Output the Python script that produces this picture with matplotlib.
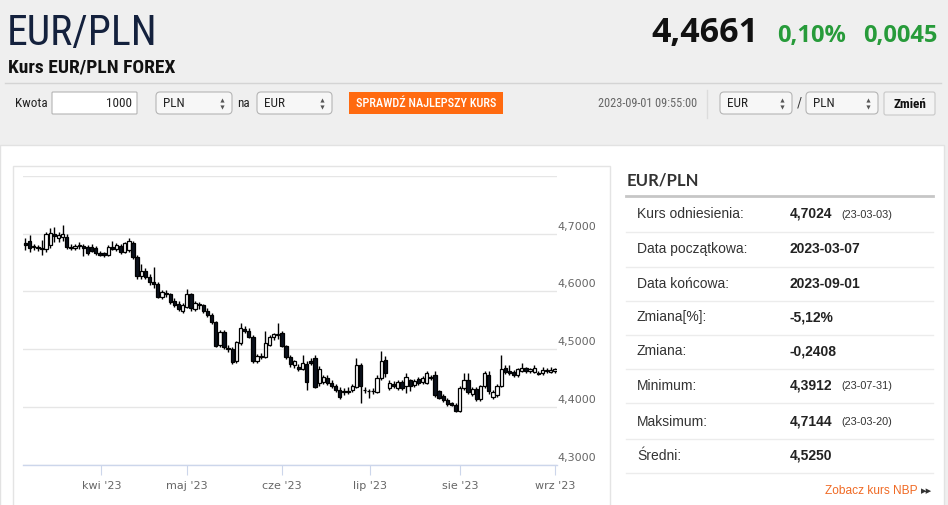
import numpy as np
import pandas as pd
import matplotlib
matplotlib.use('Agg')
import matplotlib.pyplot as plt
import matplotlib.transforms as mtransforms
from matplotlib.patches import Rectangle, FancyBboxPatch
from matplotlib import font_manager

# trading days shown on the chart (2023-03-07 .. 2023-09-01)
dates = pd.bdate_range('2023-03-07', '2023-09-01')

open_ = [4.684, 4.687, 4.677, 4.677, 4.675, 4.673, 4.680, 4.700, 4.692, 4.694,
         4.694, 4.677, 4.675, 4.679, 4.678, 4.677, 4.677, 4.676, 4.666, 4.666,
         4.663, 4.677, 4.674, 4.679, 4.668, 4.672, 4.684, 4.660, 4.627, 4.636,
         4.625, 4.616, 4.613, 4.590, 4.598, 4.595, 4.583, 4.578, 4.566, 4.573,
         4.595, 4.570, 4.578, 4.576, 4.567, 4.559, 4.547, 4.508, 4.530, 4.502,
         4.500, 4.479, 4.511, 4.535, 4.531, 4.522, 4.480, 4.488, 4.486, 4.508,
         4.522, 4.525, 4.528, 4.505, 4.486, 4.472, 4.470, 4.466, 4.475, 4.480,
         4.485, 4.441, 4.444, 4.451, 4.442, 4.436, 4.430, 4.426, 4.428, 4.430,
         4.435, 4.473, 4.430, 4.428, 4.427, 4.426, 4.450, 4.482, 4.433, 4.440,
         4.432, 4.443, 4.436, 4.446, 4.438, 4.448, 4.443, 4.442, 4.452, 4.455,
         4.427, 4.419, 4.412, 4.406, 4.403, 4.393, 4.433, 4.447, 4.422, 4.431,
         4.414, 4.436, 4.456, 4.418, 4.420, 4.437, 4.468, 4.462, 4.460, 4.455,
         4.462, 4.467, 4.462, 4.460, 4.459, 4.458, 4.462, 4.460, 4.462]
high = [4.692, 4.697, 4.683, 4.681, 4.690, 4.703, 4.710, 4.711, 4.703, 4.7144,
        4.700, 4.682, 4.683, 4.686, 4.682, 4.681, 4.683, 4.679, 4.670, 4.668,
        4.680, 4.688, 4.684, 4.682, 4.686, 4.692, 4.688, 4.664, 4.648, 4.640,
        4.631, 4.643, 4.617, 4.603, 4.602, 4.598, 4.588, 4.583, 4.580, 4.605,
        4.598, 4.583, 4.582, 4.579, 4.571, 4.562, 4.549, 4.533, 4.533, 4.507,
        4.503, 4.515, 4.546, 4.541, 4.536, 4.525, 4.492, 4.494, 4.531, 4.524,
        4.528, 4.545, 4.532, 4.508, 4.490, 4.482, 4.474, 4.490, 4.479, 4.484,
        4.490, 4.471, 4.456, 4.455, 4.446, 4.440, 4.434, 4.432, 4.434, 4.440,
        4.485, 4.477, 4.434, 4.431, 4.433, 4.455, 4.497, 4.488, 4.446, 4.445,
        4.447, 4.447, 4.458, 4.449, 4.449, 4.452, 4.454, 4.462, 4.456, 4.462,
        4.430, 4.422, 4.415, 4.409, 4.406, 4.436, 4.458, 4.458, 4.434, 4.434,
        4.438, 4.463, 4.463, 4.429, 4.440, 4.490, 4.472, 4.473, 4.464, 4.467,
        4.476, 4.470, 4.468, 4.473, 4.463, 4.470, 4.467, 4.470, 4.467]
low = [4.672, 4.668, 4.671, 4.670, 4.663, 4.668, 4.676, 4.686, 4.685, 4.688,
       4.673, 4.672, 4.671, 4.674, 4.662, 4.664, 4.668, 4.663, 4.661, 4.660,
       4.661, 4.672, 4.670, 4.665, 4.666, 4.668, 4.656, 4.622, 4.622, 4.622,
       4.612, 4.606, 4.588, 4.587, 4.590, 4.578, 4.573, 4.566, 4.562, 4.571,
       4.567, 4.566, 4.570, 4.562, 4.556, 4.543, 4.503, 4.504, 4.500, 4.496,
       4.474, 4.476, 4.508, 4.528, 4.519, 4.476, 4.477, 4.483, 4.484, 4.505,
       4.516, 4.518, 4.503, 4.483, 4.470, 4.468, 4.463, 4.464, 4.430, 4.472,
       4.432, 4.437, 4.440, 4.438, 4.432, 4.426, 4.413, 4.420, 4.422, 4.426,
       4.432, 4.407, 4.425, 4.415, 4.422, 4.424, 4.447, 4.452, 4.429, 4.432,
       4.429, 4.429, 4.424, 4.428, 4.434, 4.438, 4.440, 4.440, 4.447, 4.418,
       4.413, 4.408, 4.402, 4.401, 4.3912, 4.392, 4.430, 4.422, 4.419, 4.410,
       4.411, 4.433, 4.423, 4.414, 4.417, 4.435, 4.457, 4.455, 4.452, 4.452,
       4.460, 4.459, 4.459, 4.458, 4.455, 4.456, 4.458, 4.458, 4.459]
close = [4.680, 4.676, 4.678, 4.675, 4.673, 4.699, 4.702, 4.696, 4.697, 4.699,
         4.677, 4.675, 4.679, 4.680, 4.676, 4.666, 4.670, 4.666, 4.664, 4.663,
         4.677, 4.674, 4.681, 4.668, 4.684, 4.688, 4.660, 4.627, 4.635, 4.625,
         4.616, 4.613, 4.591, 4.599, 4.595, 4.582, 4.577, 4.569, 4.577, 4.596,
         4.571, 4.580, 4.576, 4.566, 4.559, 4.547, 4.506, 4.529, 4.503, 4.500,
         4.478, 4.512, 4.537, 4.531, 4.522, 4.480, 4.489, 4.486, 4.510, 4.521,
         4.526, 4.527, 4.506, 4.487, 4.474, 4.479, 4.466, 4.476, 4.443, 4.476,
         4.434, 4.466, 4.452, 4.441, 4.436, 4.430, 4.418, 4.428, 4.426, 4.437,
         4.473, 4.436, 4.429, 4.427, 4.428, 4.450, 4.480, 4.458, 4.442, 4.436,
         4.443, 4.432, 4.452, 4.437, 4.445, 4.442, 4.450, 4.458, 4.450, 4.421,
         4.416, 4.412, 4.405, 4.404, 4.393, 4.432, 4.447, 4.426, 4.431, 4.413,
         4.436, 4.458, 4.427, 4.426, 4.437, 4.466, 4.460, 4.458, 4.455, 4.465,
         4.468, 4.462, 4.465, 4.467, 4.457, 4.464, 4.463, 4.464, 4.466]

month_starts = pd.to_datetime(['2023-04-01', '2023-05-01', '2023-06-01',
                               '2023-07-01', '2023-08-01', '2023-09-01'])
month_labels = ["kwi '23", "maj '23", "cze '23", "lip '23", "sie '23", "wrz '23"]
y_grid = [4.3, 4.4, 4.5, 4.6, 4.7, 4.8]
y_labels = [4.3, 4.4, 4.5, 4.6, 4.7]

pair = 'EUR/PLN'
last_rate = '4,4661'
change_pct = '0,10%'
change_abs = '0,0045'
quote_time = '2023-09-01 09:55:00'

stat_names = ['Kurs odniesienia:', 'Data początkowa:', 'Data końcowa:', 'Zmiana[%]:',
              'Zmiana:', 'Minimum:', 'Maksimum:', 'Średni:']
stat_values = ['4,7024', '2023-03-07', '2023-09-01', '-5,12%',
               '-0,2408', '4,3912', '4,7144', '4,5250']
stat_dates = ['(23-03-03)', '', '', '', '', '(23-07-31)', '(23-03-20)', '']

# fonts
names = {f.name for f in font_manager.fontManager.ttflist}
NARROW = 'DejaVu Sans'
for cand in ['Roboto Condensed', 'Liberation Sans Narrow', 'Arial Narrow']:
    if cand in names:
        NARROW = cand
        break
ARIAL = 'Liberation Sans'
OPEN = 'Open Sans'

W, H = 948, 505
fig = plt.figure(figsize=(W / 100, H / 100), dpi=100, facecolor='#efefef')

# page layer in pixel coordinates
bg = fig.add_axes([0, 0, 1, 1])
bg.set_xlim(0, W)
bg.set_ylim(H, 0)
bg.axis('off')

# header
bg.text(7, 45, pair, fontsize=30, color='#14213d', family=NARROW, va='baseline')
bg.text(759, 42, last_rate, fontsize=24.5, color='#111111', family=OPEN,
        weight='bold', ha='right', va='baseline')
bg.text(777, 42, change_pct, fontsize=17, color='#279b3a', family=OPEN,
        weight='bold', va='baseline')
bg.text(938, 42, change_abs, fontsize=17, color='#279b3a', family=OPEN,
        weight='bold', ha='right', va='baseline')
bg.text(8, 72, 'Kurs EUR/PLN FOREX', fontsize=14, color='#111111', family=NARROW,
        weight='bold', va='baseline')
bg.plot([5, 941], [83, 83], color='#d4d4d4', lw=1)


def box(x0, x1, y0=92, y1=114, fc='white', ec='#b5b5b5', r=3):
    bg.add_patch(FancyBboxPatch((x0, y0), x1 - x0, y1 - y0,
                                boxstyle='round,pad=0,rounding_size=%g' % r,
                                fc=fc, ec=ec, lw=0.8))


def select(x0, x1, label):
    box(x0, x1, fc='#f7f7f7', r=4)
    bg.text(x0 + 7, 103.5, label, fontsize=9.5, family=NARROW, color='#222', va='center')
    bg.plot([x1 - 10], [100], marker='^', ms=3, color='#555', mew=0)
    bg.plot([x1 - 10], [107], marker='v', ms=3, color='#555', mew=0)


bg.text(15, 103.5, 'Kwota', fontsize=9.5, family=NARROW, color='#222', va='center')
box(52, 137, r=1)
bg.text(132, 103.5, '1000', fontsize=9.5, family=NARROW, color='#222', va='center', ha='right')
select(156, 232, 'PLN')
bg.text(237, 103.5, 'na', fontsize=9.5, family=NARROW, color='#222', va='center')
select(257, 332, 'EUR')
bg.add_patch(Rectangle((349, 92), 154, 22, fc='#ff6a10', ec='none'))
bg.text(426, 103.5, 'SPRAWDŹ NAJLEPSZY KURS', fontsize=8.8, family=NARROW, color='white',
        va='center', ha='center', weight='medium')
bg.text(697, 103.5, quote_time, fontsize=8.8, family=NARROW, color='#666', va='center', ha='right')
bg.plot([707, 707], [90, 118], color='#dcdcdc', lw=1)
select(720, 792, 'EUR')
bg.text(799, 104, '/', fontsize=10, family=NARROW, color='#333', va='center', ha='center')
select(806, 878, 'PLN')
box(884, 935, 92, 115, fc='#f3f3f3', ec='#c8c8c8', r=2)
bg.text(909.5, 104, 'Zmień', fontsize=9.5, family=NARROW, color='#111', weight='bold',
        va='center', ha='center')

# white content panel and chart frame
bg.add_patch(Rectangle((0, 145), 944, 380, fc='white', ec='#e2e2e2', lw=1))
bg.add_patch(Rectangle((13, 166), 597, 360, fc='white', ec='#e4e4e4', lw=1))

# statistics table
bg.text(627, 180, pair, fontsize=12, family='Lato', weight='bold', color='#333', va='center')
bg.plot([626, 933], [196, 196], color='#c6c6c6', lw=2)
row_y = [214, 249, 283.5, 317.5, 351, 385.5, 421.5, 455.5]
for k, (nm, val, dt) in enumerate(zip(stat_names, stat_values, stat_dates)):
    yy = row_y[k]
    bg.text(637, yy, nm, fontsize=10, family=ARIAL, color='#333', va='center')
    bg.text(790, yy, val, fontsize=10, family=ARIAL, color='#222', weight='bold', va='center')
    if dt:
        bg.text(841, yy + 0.5, dt, fontsize=7.8, family=ARIAL, color='#333', va='center')
    bg.plot([626, 933], [yy + 17.5, yy + 17.5], color='#ececec', lw=1)
bg.text(918, 491, 'Zobacz kurs NBP', fontsize=8.6, family=ARIAL, color='#f06a24',
        va='center', ha='right')
bg.text(921, 491.5, '▸▸', fontsize=8, family='DejaVu Sans', color='#333', va='center')

# candlestick chart
left, right, top, bottom = 23.4, 557.0, 176.0, 464.7
ax = fig.add_axes([left / W, 1 - bottom / H, (right - left) / W, (bottom - top) / H])
ax.set_facecolor('white')
o = np.array(open_)
c = np.array(close)
x = np.arange(len(c))
up = c >= o
ax.vlines(x, low, high, color='#000000', lw=1.0, zorder=3)
body = np.maximum(np.abs(c - o), 0.0012)
ax.bar(x, body, bottom=np.minimum(o, c), width=0.8,
       color=np.where(up, 'white', '#0b111c'), edgecolor='#000000', linewidth=0.9, zorder=4)
ax.set_xlim(-0.5, len(c) - 0.5)
ax.set_ylim(4.3, 4.8)

ax.set_yticks(y_grid)
ax.yaxis.grid(True, color='#e6e6e6', lw=1)
ax.set_axisbelow(True)
ax.tick_params(axis='y', length=0, labelleft=False)
for side in ['top', 'left', 'right']:
    ax.spines[side].set_visible(False)
ax.spines['bottom'].set_color('#ccd6eb')
ax.spines['bottom'].set_linewidth(1)

tick_pos = np.interp(month_starts.values.astype('int64'), dates.values.astype('int64'), x)
ax.set_xticks(tick_pos, month_labels)
ax.tick_params(axis='x', length=7, width=0.8, color='#ccd6eb', labelcolor='#666666',
               labelsize=8, pad=4.5)

trans = mtransforms.blended_transform_factory(ax.transAxes, ax.transData)
for v in y_labels:
    ax.annotate(('%.4f' % v).replace('.', ','), xy=(1.0, v), xycoords=trans,
                xytext=(0.5, 1.5), textcoords='offset points', ha='left', va='bottom',
                fontsize=8, color='#666666', annotation_clip=False)

fig.savefig('out.png', dpi=100, facecolor=fig.get_facecolor())
